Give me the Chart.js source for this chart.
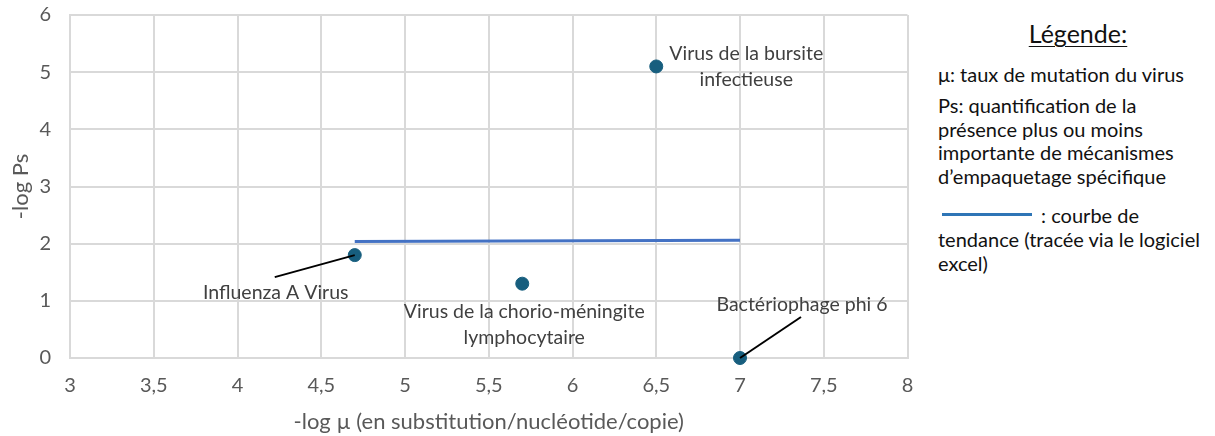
<!DOCTYPE html>
<html>
<head>
<meta charset="utf-8">
<script src="https://cdn.jsdelivr.net/npm/chart.js@4.4.1/dist/chart.umd.min.js"></script>
<style>
  html,body{margin:0;padding:0;background:#fff;}
  #wrap{position:relative;width:1215px;height:436px;}
  #chartBox{position:absolute;left:0;top:0;width:915px;height:436px;}
  #legend{position:absolute;left:938px;top:0;width:277px;font-family:Lato,"Open Sans",sans-serif;color:#111;font-size:20px;}
  #legend .title{position:absolute;left:0;top:18px;width:280px;text-align:center;font-size:25px;line-height:30px;text-decoration:underline;text-decoration-thickness:1px;text-underline-offset:3px;}
  #legend p{margin:0;position:absolute;left:0;white-space:nowrap;}
  #legend .sw{display:inline-block;width:90px;height:3px;background:#2E75B6;vertical-align:middle;margin-left:4px;margin-right:4px;position:relative;top:-3px;}
</style>
</head>
<body>
<div id="wrap">
  <div id="chartBox"><canvas id="c" width="915" height="436"></canvas></div>
  <div id="legend">
    <div class="title">Légende:</div>
    <p style="top:63px;line-height:23px">μ: taux de mutation du virus</p>
    <p style="top:94px;line-height:23.7px">Ps: quantification de la<br>présence plus ou moins<br>importante de mécanismes<br>d’empaquetage spécifique</p>
    <p style="top:203px;line-height:24px"><span class="sw"></span> : courbe de<br>tendance (tracée via le logiciel<br>excel)</p>
  </div>
</div>
<script>
const virusNames = ["Influenza A Virus", "Virus de la chorio-méningite\nlymphocytaire", "Virus de la bursite\ninfectieuse", "Bactériophage phi 6"];
const xValues = [4.7, 5.7, 6.5, 7];
const yValues = [1.8, 1.3, 5.1, 0];
const trendX = [4.7, 7];
const trendY = [2.04, 2.06];
const xTickLabels = {3:"3",3.5:"3,5",4:"4",4.5:"4,5",5:"5",5.5:"5,5",6:"6",6.5:"6,5",7:"7",7.5:"7,5",8:"8"};
const xTitle = "-log µ (en substitution/nucléotide/copie)";
const yTitle = "-log Ps";

// label placement (pixel offsets from point) and leader lines
const labelOffsets = [
  {dx:-79, dy:38, arrow:{fx:-80,fy:22}},
  {dx:2, dy:28, arrow:null},
  {dx:90, dy:-13, arrow:null},
  {dx:62, dy:-53, arrow:{fx:61,fy:-41}}
];

const FONT = 'Lato, "Open Sans", sans-serif';

const annotPlugin = {
  id:'annot',
  afterDatasetsDraw(chart){
    const ctx = chart.ctx;
    const xs = chart.scales.x, ys = chart.scales.y;
    ctx.save();
    ctx.font = '19.5px ' + FONT;
    ctx.textAlign = 'center';
    ctx.textBaseline = 'middle';
    xValues.forEach((xv,i)=>{
      const px = xs.getPixelForValue(xv), py = ys.getPixelForValue(yValues[i]);
      const o = labelOffsets[i];
      if(o.arrow){
        ctx.strokeStyle = '#000';
        ctx.lineWidth = 2;
        ctx.beginPath();
        ctx.moveTo(px + o.arrow.fx, py + o.arrow.fy);
        ctx.lineTo(px, py);
        ctx.stroke();
      }
      ctx.fillStyle = '#404040';
      const lines = virusNames[i].split('\n');
      lines.forEach((ln,k)=>{
        ctx.fillText(ln, px + o.dx, py + o.dy + k*26);
      });
    });
    ctx.restore();
  }
};

new Chart(document.getElementById('c'), {
  type:'scatter',
  data:{
    datasets:[
      {
        label:'trend',
        type:'line',
        data: trendX.map((x,i)=>({x, y:trendY[i]})),
        borderColor:'#4472C4',
        borderWidth:3,
        pointRadius:0,
        fill:false,
        order:2
      },
      {
        label:'virus',
        data: xValues.map((x,i)=>({x, y:yValues[i]})),
        backgroundColor:'#175E7E',
        borderColor:'#175E7E',
        pointRadius:6.5,
        clip:false,
        order:1
      }
    ]
  },
  options:{
    responsive:false,
    animation:false,
    events:[],
    layout:{padding:{top:15,right:6,left:0,bottom:0}},
    plugins:{legend:{display:false},tooltip:{enabled:false}},
    scales:{
      x:{
        type:'linear', min:3, max:8,
        grid:{color:'#D9D9D9', lineWidth:2, drawTicks:false},
        border:{color:'#D9D9D9', width:2},
        ticks:{stepSize:0.5, padding:16, color:'#595959', font:{family:FONT,size:20},
               callback:v=>xTickLabels[v] ?? ''},
        title:{display:true, text:xTitle, color:'#595959', font:{family:FONT,size:22}, padding:{top:0,bottom:1}},
        afterFit(s){ s.height = 78; s.paddingLeft = 0; s.paddingRight = 0; }
      },
      y:{
        type:'linear', min:0, max:6,
        grid:{color:'#D9D9D9', lineWidth:2, drawTicks:false},
        border:{color:'#D9D9D9', width:2},
        ticks:{stepSize:1, padding:19, color:'#595959', font:{family:FONT,size:20}},
        title:{display:true, text:yTitle, color:'#595959', font:{family:FONT,size:22}, padding:{top:8,bottom:0}},
        afterFit(s){ s.width = 70; s.paddingTop = 0; s.paddingBottom = 0; }
      }
    }
  },
  plugins:[annotPlugin]
});
</script>
</body>
</html>
